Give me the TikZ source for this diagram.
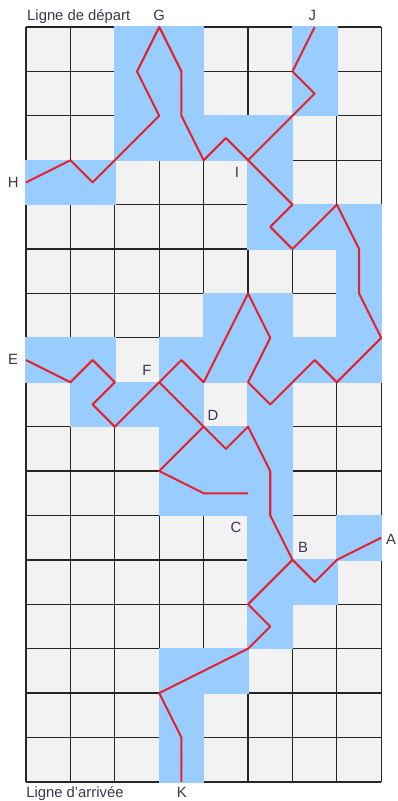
\documentclass[tikz,border=0pt]{standalone}
\usepackage{fontspec}
\setmainfont{Liberation Sans}
\usepackage{xcolor}
\definecolor{cellgray}{RGB}{242,242,242}
\definecolor{cellblue}{RGB}{153,204,255}
\definecolor{routered}{RGB}{226,34,44}
\definecolor{labelink}{RGB}{62,52,78}

\begin{document}
\begin{tikzpicture}[y=-1cm,
    every node/.style={font=\fontsize{9.5}{11}\selectfont,text=labelink,inner sep=0pt},
    open cell/.style={fill=cellblue},
    route/.style={draw=routered,line width=1.3pt,line join=round}]
  \fill[white] (-0.586,-0.608) rectangle (8.36,17.43);
  \useasboundingbox (-0.586,-0.608) rectangle (8.36,17.43);
  \fill[cellgray] (0,0) rectangle (8,17);
  \draw[black!85,line width=0.8pt] (0,0) grid (8,17);
  \foreach \c/\r in {2/0,3/0,6/0, 2/1,3/1,6/1, 2/2,3/2,4/2,5/2, 0/3,1/3,5/3,
      5/4,6/4,7/4, 7/5, 4/6,5/6,7/6, 0/7,1/7,3/7,4/7,5/7,6/7,7/7,
      1/8,2/8,3/8,5/8, 3/9,4/9,5/9, 3/10,4/10,5/10, 5/11,7/11,
      5/12,6/12, 5/13, 3/14,4/14, 3/15, 3/16}
    \fill[open cell] (\c-0.015,\r-0.015) rectangle (\c+1.015,\r+1.015);
  \draw[route] (0,3.5) -- (1,3) -- (1.5,3.5) -- (3,2) -- (2.5,1) -- (3,0)
    -- (3.5,1) -- (3.5,2) -- (4,3) -- (4.5,2.5) -- (5,3) -- (6,4) -- (5.5,4.5)
    -- (6,5) -- (7,4) -- (7.5,5) -- (7.5,6) -- (8,7) -- (7,8) -- (6.5,7.5)
    -- (5.5,8.5) -- (5,8) -- (5.5,7) -- (5,6) -- (4,8) -- (3.5,7.5) -- (3,8)
    -- (2,9) -- (1.5,8.5) -- (2,8) -- (1.5,7.5) -- (1,8) -- (0,7.5);
  \draw[route] (6.5,0) -- (6,1) -- (6.5,1.5) -- (5,3);
  \draw[route] (3,8) -- (4,9) -- (4.5,9.5) -- (5,9) -- (5.5,10) -- (5.5,11)
    -- (6,12) -- (6.5,12.5) -- (7,12) -- (8,11.5);
  \draw[route] (4,9) -- (3,10) -- (4,10.5) -- (5,10.5);
  \draw[route] (6,12) -- (5,13) -- (5.5,13.5) -- (5,14) -- (3,15) -- (3.5,16)
    -- (3.5,17);
  \node[anchor=base west] (depart) at (0.02,-0.14) {Ligne de départ};
  \node[anchor=base west] (arrivee) at (0,17.34) {Ligne d'arrivée};
  \node[anchor=base] (g) at (3,-0.14) {G};
  \node[anchor=base] (j) at (6.45,-0.14) {J};
  \node[anchor=base] (k) at (3.51,17.34) {K};
  \node (h) at (-0.29,3.5) {H};
  \node (i) at (4.75,3.27) {I};
  \node (e) at (-0.29,7.48) {E};
  \node (f) at (2.72,7.73) {F};
  \node (d) at (4.21,8.74) {D};
  \node (c) at (4.73,11.26) {C};
  \node (b) at (6.24,11.73) {B};
  \node (a) at (8.22,11.53) {A};
\end{tikzpicture}
\end{document}
